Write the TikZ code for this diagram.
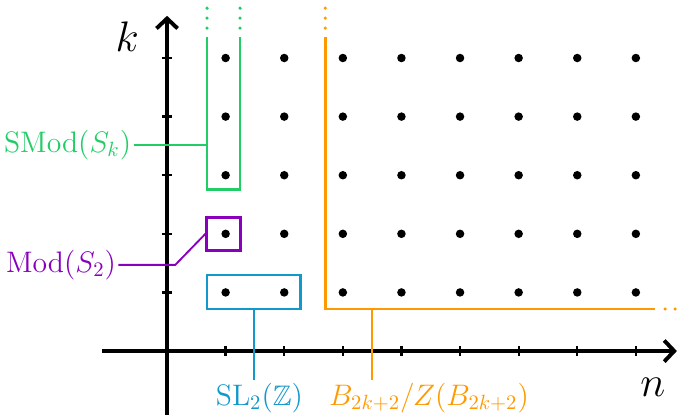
\documentclass[tikz,border=0pt]{standalone}
\usepackage{amssymb}
\usepackage{tikz}
\usetikzlibrary{arrows.meta, positioning}
\definecolor{grpGreen}{HTML}{22CC66}
\definecolor{grpPurple}{HTML}{8800BB}
\definecolor{grpBlue}{HTML}{1199CC}
\definecolor{grpOrange}{HTML}{FF9900}

\begin{document}
\begin{tikzpicture}[
  axisline/.style={line width=1.9pt, -{Straight Barb[length=1.7mm, width=3.6mm]}},
  axtick/.style={line width=1.1pt},
  latdot/.style={circle, fill=black, inner sep=0pt, minimum size=1.45mm},
  moredot/.style={circle, inner sep=0pt, minimum size=0.6mm},
  grpline/.style={line width=1.4pt},
  grpbox/.style={draw, line width=1.4pt, inner sep=0pt},
  lead/.style={line width=0.9pt},
  glabel/.style={font=\fontsize{13.7}{16}\selectfont, inner sep=1pt},
  axlabel/.style={font=\fontsize{20.7}{25}\selectfont, inner sep=0pt}
]
\useasboundingbox (-2.85,-1.09) rectangle (8.77,5.99);

% axes
\draw[axisline] (-1.11,0) -- (8.70,0);
\draw[axisline] (0,-1.2) -- (0,5.72);
\node[axlabel] (klab) at (-0.68,5.36) {$k$};
\node[axlabel] (nlab) at (8.29,-0.62) {$n$};

% ticks
\foreach \i in {1,...,8}
  \draw[axtick] (\i,-0.08) -- (\i,0.08);
\foreach \j in {1,...,5}
  \draw[axtick] (-0.08,\j) -- (0.08,\j);

% lattice points
\foreach \i in {1,...,8}
  \foreach \j in {1,...,5}
    \node[latdot] (p-\i-\j) at (\i,\j) {};

% SMod(S_k) column
\draw[grpline, grpGreen] (0.683,5.36) -- (0.683,2.75) -- (1.246,2.75) -- (1.246,5.36);
\foreach \y in {5.51,5.68,5.85} {
  \node[moredot, fill=grpGreen] at (0.683,\y) {};
  \node[moredot, fill=grpGreen] at (1.246,\y) {};
}
\coordinate (smodpt) at (0.683,3.515);

% Mod(S_2) and SL_2(Z)
\node[grpbox, draw=grpPurple, minimum width=0.57cm, minimum height=0.57cm] (mod) at (0.965,2.0) {};
\node[grpbox, draw=grpBlue, minimum width=1.59cm, minimum height=0.58cm] (sl) at (1.477,1.007) {};

% braid quotients
\draw[grpline, grpOrange] (2.70,5.36) -- (2.70,0.717) -- (8.33,0.717);
\foreach \y in {5.51,5.68,5.85}
  \node[moredot, fill=grpOrange] at (2.70,\y) {};
\foreach \x in {8.50,8.67}
  \node[moredot, fill=grpOrange] at (\x,0.717) {};
\coordinate (bpt) at (3.5,0.717);

% labels
\node[glabel, text=grpGreen, anchor=east] (smodlab) at (-0.57,3.515) {$\mathrm{SMod}(S_k)$};
\draw[lead, grpGreen] (smodlab.east) -- (smodpt);

\node[glabel, text=grpPurple, anchor=east] (modlab) at (-0.83,1.47) {$\mathrm{Mod}(S_2)$};
\coordinate (modbend) at (0.14,1.47);
\draw[lead, grpPurple] (modlab.east) -- (modbend) -- (mod.west);

\coordinate (slend) at (1.477,-0.5);
\draw[lead, grpBlue] (sl.south) -- (slend);
\node[glabel, text=grpBlue, anchor=north, xshift=1mm] (sllab) at (slend) {$\mathrm{SL}_2(\mathbb{Z})$};

\coordinate (bend) at (3.5,-0.5);
\draw[lead, grpOrange] (bpt) -- (bend);
\node[glabel, text=grpOrange, anchor=north, xshift=9.7mm] (blab) at (bend) {$B_{2k+2}/Z(B_{2k+2})$};
\end{tikzpicture}
\end{document}
